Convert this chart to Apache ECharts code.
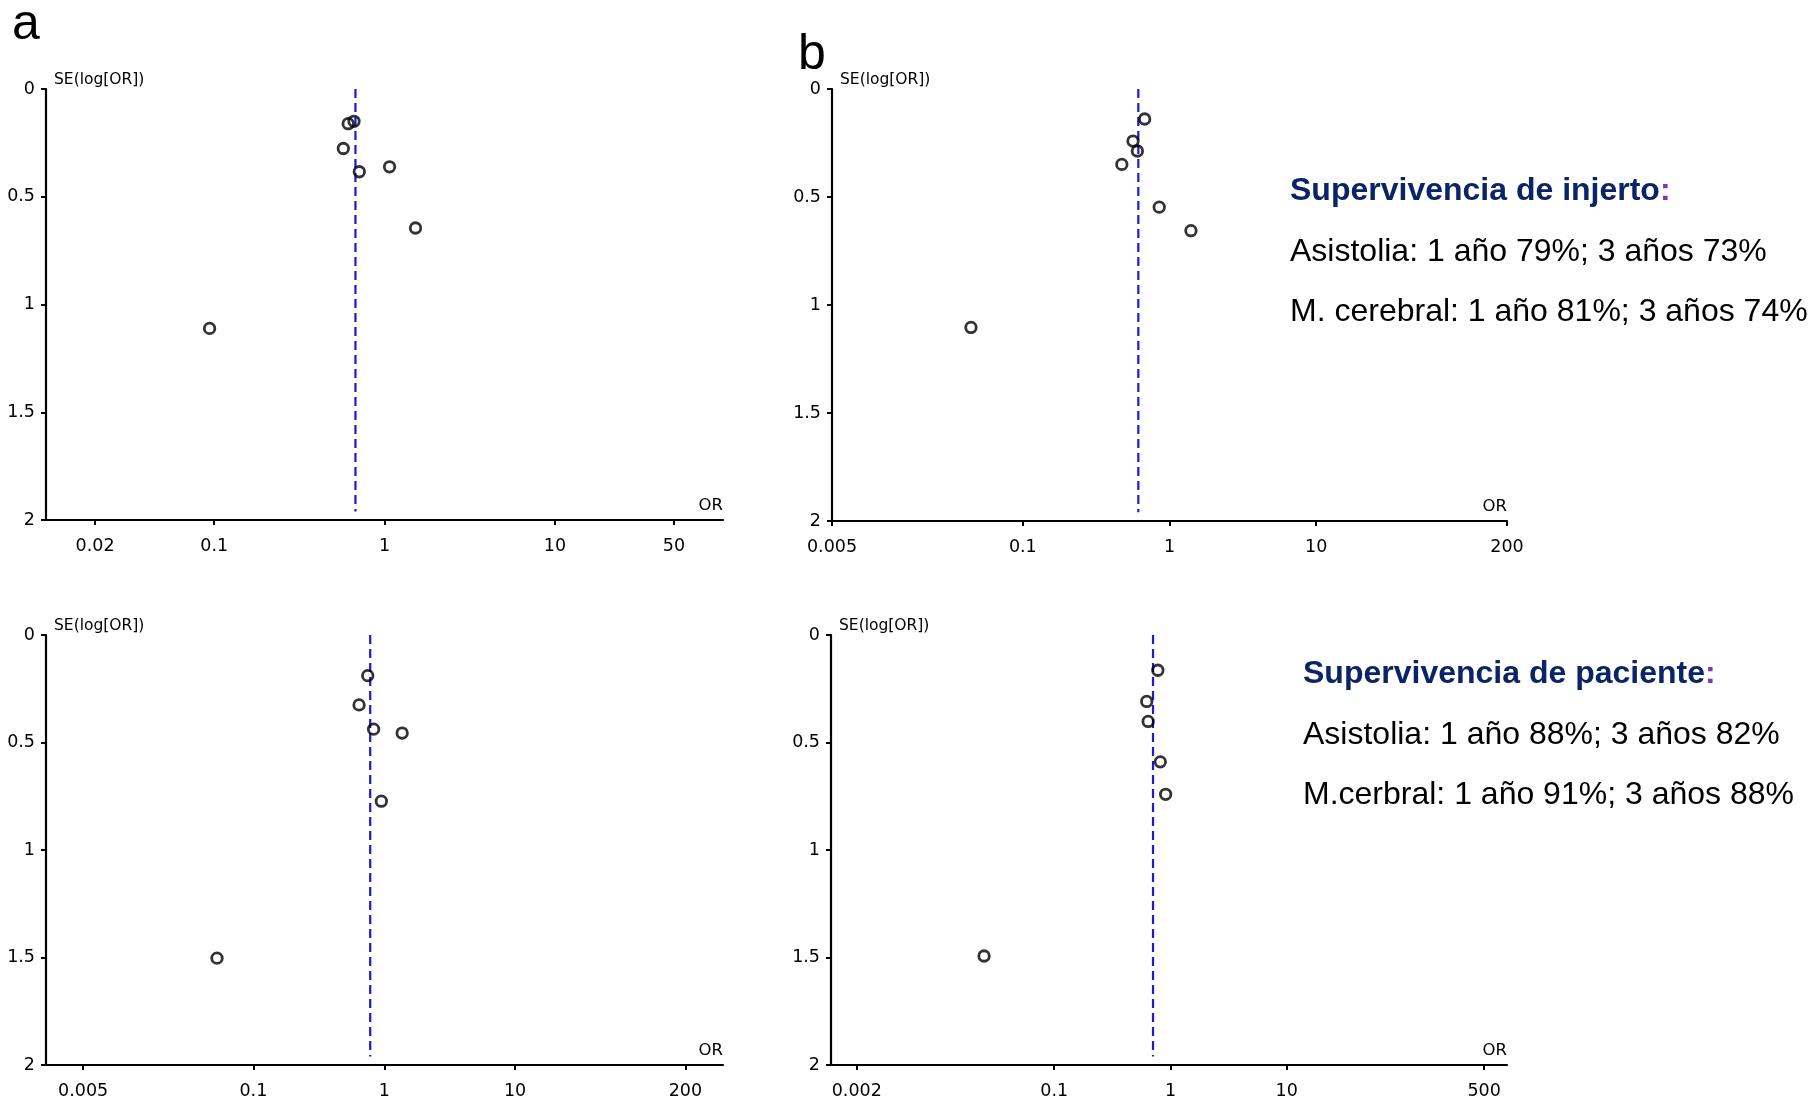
<!DOCTYPE html>
<html>
<head>
<meta charset="utf-8">
<title>Funnel plots</title>
<script src="https://cdn.jsdelivr.net/npm/echarts@6/dist/echarts.min.js"></script>
<style>
  html, body { margin: 0; padding: 0; background: #fff; }
  #main { width: 1808px; height: 1100px; }
</style>
</head>
<body>
<div id="main"></div>
<script>
    // a arriba
    var orA1 = [0.612, 0.662, 0.573, 0.711, 1.07, 1.52, 0.094];
    var seA1 = [0.161, 0.150, 0.276, 0.384, 0.361, 0.645, 1.111];
    var pooledA1 = 0.675;
    var ticksA1 = [0.02, 0.1, 1, 10, 50];
    var rangeA1 = [0.0103, 97];

    // b arriba
    var orB1 = [0.677, 0.564, 0.604, 0.473, 0.851, 1.40, 0.0443];
    var seB1 = [0.139, 0.241, 0.287, 0.349, 0.547, 0.656, 1.104];
    var pooledB1 = 0.613;
    var ticksB1 = [0.005, 0.1, 1, 10, 200];
    var rangeB1 = [0.005, 200];

    // a abajo
    var orA2 = [0.748, 0.642, 0.829, 1.37, 0.950, 0.0527];
    var seA2 = [0.189, 0.325, 0.438, 0.456, 0.773, 1.503];
    var pooledA2 = 0.781;
    var ticksA2 = [0.005, 0.1, 1, 10, 200];
    var rangeA2 = [0.0026, 388];

    // b abajo
    var orB2 = [0.779, 0.625, 0.643, 0.818, 0.909, 0.0249];
    var seB2 = [0.164, 0.309, 0.402, 0.590, 0.741, 1.493];
    var pooledB2 = 0.708;
    var ticksB2 = [0.002, 0.1, 1, 10, 500];
    var rangeB2 = [0.0012, 787];

    var F = "'DejaVu Sans', Verdana, sans-serif";
    var AX = '#000';

    var grids = [
        {left: 46, top: 89, width: 677, height: 431},
        {left: 832, top: 89, width: 675, height: 432},
        {left: 46, top: 635, width: 677, height: 431},
        {left: 831, top: 635, width: 676, height: 432}
    ];
    var panels = [
        [orA1, seA1, pooledA1, ticksA1, rangeA1],
        [orB1, seB1, pooledB1, ticksB1, rangeB1],
        [orA2, seA2, pooledA2, ticksA2, rangeA2],
        [orB2, seB2, pooledB2, ticksB2, rangeB2]
    ];

    var xAxes = [], yAxes = [], series = [];
    panels.forEach(function (p, i) {
        var pts = p[0].map(function (v, k) { return [v, p[1][k]]; });
        xAxes.push({
            gridIndex: i, type: 'log', logBase: 10, min: p[4][0], max: p[4][1],
            position: 'bottom',
            name: 'OR', nameLocation: 'end', nameGap: 0,
            nameTextStyle: {align: 'right', verticalAlign: 'bottom', padding: [0, 0, 6, 0], fontSize: 16.5, color: AX, fontFamily: F},
            axisLine: {onZero: false, lineStyle: {color: AX, width: 2.2}},
            axisTick: {show: true, customValues: p[3], length: 5, lineStyle: {color: AX, width: 2}},
            axisLabel: {customValues: p[3], margin: 17, color: AX, fontSize: 17.5, fontFamily: F,
                formatter: function (v) { return String(+Number(v).toPrecision(4)); }},
            splitLine: {show: false}
        });
        yAxes.push({
            gridIndex: i, type: 'value', inverse: true, min: 0, max: 2, interval: 0.5,
            name: 'SE(log[OR])', nameLocation: 'start', nameGap: 1,
            nameTextStyle: {align: 'left', verticalAlign: 'bottom', padding: [0, 0, 0, 8], fontSize: 15.5, color: AX, fontFamily: F},
            axisLine: {show: true, onZero: false, lineStyle: {color: AX, width: 2.2}},
            axisTick: {show: true, length: 5, lineStyle: {color: AX, width: 2}},
            axisLabel: {margin: 11, color: AX, fontSize: 17.5, fontFamily: F},
            splitLine: {show: false}
        });
        series.push({
            type: 'line', xAxisIndex: i, yAxisIndex: i,
            data: [[p[2], 0], [p[2], 1.96]],
            symbol: 'none', silent: true,
            lineStyle: {type: [9, 5], color: '#1a1ad8', width: 2.2}
        });
        series.push({
            type: 'scatter', xAxisIndex: i, yAxisIndex: i, data: pts,
            symbol: 'circle', symbolSize: 10.5, z: 3,
            itemStyle: {color: 'rgba(0,0,0,0)', borderColor: AX, borderWidth: 2.8}
        });
    });

    var TF = "'Liberation Sans', Arial, sans-serif";
    function line(x, y, txt) {
        return {type: 'text', x: x, y: y, style: {text: txt, font: '32px ' + TF, fill: '#000', verticalAlign: 'middle'}};
    }
    function head(x, y, txt) {
        return {type: 'text', x: x, y: y, style: {
            text: '{t|' + txt + '}{c|:}', verticalAlign: 'middle',
            rich: {
                t: {fontSize: 32, fontWeight: 'bold', fontFamily: TF, fill: '#0b2466'},
                c: {fontSize: 32, fontWeight: 'bold', fontFamily: TF, fill: '#7a3aa8'}
            }
        }};
    }

    var myChart = echarts.init(document.getElementById('main'));
    myChart.setOption({
        animation: false,
        backgroundColor: '#fff',
        grid: grids,
        xAxis: xAxes,
        yAxis: yAxes,
        series: series,
        graphic: [
            {type: 'text', x: 12, y: 25, style: {text: 'a', font: '50px ' + TF, fill: '#000', verticalAlign: 'middle'}},
            {type: 'text', x: 798, y: 55, style: {text: 'b', font: '50px ' + TF, fill: '#000', verticalAlign: 'middle'}},
            head(1290, 191, 'Supervivencia de injerto'),
            line(1290, 252, 'Asistolia: 1 año 79%; 3 años 73%'),
            line(1290, 312, 'M. cerebral: 1 año 81%; 3 años 74%'),
            head(1303, 674, 'Supervivencia de paciente'),
            line(1303, 735, 'Asistolia: 1 año 88%; 3 años 82%'),
            line(1303, 795, 'M.cerbral: 1 año 91%; 3 años 88%')
        ]
    });
</script>
</body>
</html>
